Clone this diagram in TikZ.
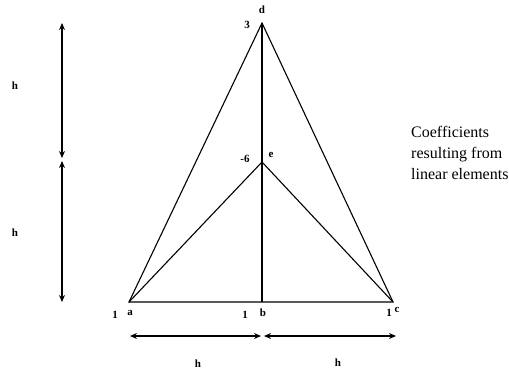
\documentclass[tikz,border=0pt]{standalone}
\usepackage{fontspec}
\setmainfont{Liberation Serif}
\usetikzlibrary{arrows.meta}
\begin{document}
\begin{tikzpicture}[x=1pt,y=-1pt,
  edge/.style={line width=1.1pt},
  dim/.style={line width=1.1pt,{Stealth[length=7pt,width=6pt]}-{Stealth[length=7pt,width=6pt]}},
  lbl/.style={inner sep=0pt,font=\bfseries\fontsize{11}{13}\selectfont},
  note/.style={inner sep=0pt,anchor=north west,align=left,font=\fontsize{16}{21}\selectfont}]
\useasboundingbox (0,0) rectangle (509,375);
% main points
\coordinate (a) at (129,302);
\coordinate (b) at (262,302);
\coordinate (c) at (393,302);
\coordinate (d) at (262,23);
\coordinate (e) at (262,162);
\draw[edge] (a) -- (d) -- (c) -- cycle;
\draw[edge] (a) -- (e) -- (c);
\draw[edge] (d) -- (b);
% dimension ends
\coordinate (v1) at (62,23);
\coordinate (v2) at (62,158);
\coordinate (v3) at (62,161);
\coordinate (v4) at (62,302);
\coordinate (h1) at (130,336);
\coordinate (h2) at (261,336);
\coordinate (h3) at (264,336);
\coordinate (h4) at (396,336);
\draw[dim] (v1) -- (v2);
\draw[dim] (v3) -- (v4);
\draw[dim] (h1) -- (h2);
\draw[dim] (h3) -- (h4);
% labels
\node[lbl] (ld) at (262,10) {d};
\node[lbl] (l3) at (247,25) {3};
\node[lbl] (l6) at (245,159) {-6};
\node[lbl] (le) at (271,155) {e};
\node[lbl] (l1a) at (115,315) {1};
\node[lbl] (la) at (130,313) {a};
\node[lbl] (l1b) at (245,315) {1};
\node[lbl] (lb) at (263,313) {b};
\node[lbl] (l1c) at (389,313) {1};
\node[lbl] (lc) at (397,310) {c};
\node[lbl] (hv1) at (15,86) {h};
\node[lbl] (hv2) at (15,233) {h};
\node[lbl] (hh1) at (198,364) {h};
\node[lbl] (hh2) at (338,363) {h};
\node[note] (txt) at (411,126) {Coefficients\\resulting from\\linear elements};
\end{tikzpicture}
\end{document}
